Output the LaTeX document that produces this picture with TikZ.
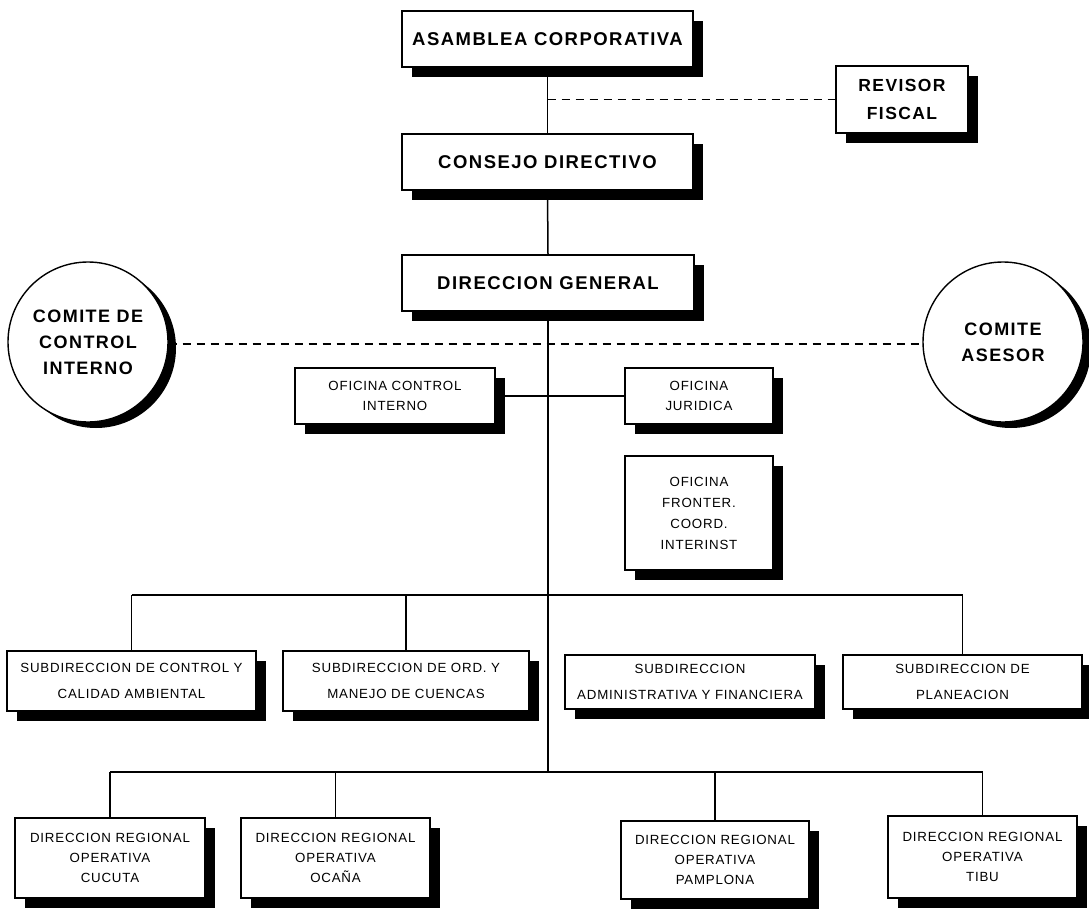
\documentclass[tikz,border=0pt]{standalone}
\usepackage{fontspec}
\setmainfont{Liberation Sans}
\newfontfamily\bigfont[LetterSpace=8]{Liberation Sans}
\newfontfamily\smallfont[LetterSpace=6]{Liberation Sans}
\usetikzlibrary{shadows}
\begin{document}
\begin{tikzpicture}[x=1pt,y=-1pt,
  shad/.style={drop shadow={shadow xshift=10pt,shadow yshift=-10pt,fill=black,opacity=1}},
  cshad/.style={drop shadow={shadow xshift=8pt,shadow yshift=-6pt,fill=black,opacity=1}},
  bigbox/.style={draw,fill=white,line width=1.4pt,shad,inner sep=0pt,align=center,font=\bigfont\fontsize{18.5}{28}\selectfont\bfseries},
  smallbox/.style={draw,fill=white,line width=1.4pt,shad,inner sep=0pt,align=center,font=\smallfont\fontsize{13.3}{20}\selectfont},
  comite/.style={circle,draw,fill=white,line width=1.4pt,cshad,inner sep=0pt,minimum size=160pt,align=center,font=\bigfont\fontsize{18}{26}\selectfont\bfseries},
  conn/.style={line width=1.5pt},
  dashline/.style={line width=1.5pt,dash pattern=on 8pt off 6pt}]
\useasboundingbox (0,0) rectangle (1089,909);
% top boxes
\node[bigbox,minimum width=291pt,minimum height=56pt] (asamblea) at (547.5,39) {ASAMBLEA CORPORATIVA};
\node[bigbox,minimum width=132pt,minimum height=67pt,font=\bigfont\fontsize{17.5}{28}\selectfont\bfseries] (revisor) at (902,99.5) {REVISOR\\FISCAL};
\node[bigbox,minimum width=291pt,minimum height=56pt] (consejo) at (547.5,162) {CONSEJO DIRECTIVO};
\node[bigbox,minimum width=292pt,minimum height=56pt] (dirgen) at (548,283) {DIRECCION GENERAL};
% circles
\node[comite] (cci) at (88,342) {COMITE DE\\CONTROL\\INTERNO};
\node[comite] (cas) at (1003,342) {COMITE\\ASESOR};
% oficinas
\node[smallbox,minimum width=200pt,minimum height=56pt] (ofci) at (395,396) {OFICINA CONTROL\\INTERNO};
\node[smallbox,minimum width=148pt,minimum height=56pt] (ofju) at (699,396) {OFICINA\\JURIDICA};
\node[smallbox,minimum width=148pt,minimum height=114pt,font=\smallfont\fontsize{13.3}{21}\selectfont] (offr) at (699,513) {OFICINA\\FRONTER.\\COORD.\\INTERINST};
% subdirecciones
\node[smallbox,minimum width=249pt,minimum height=60pt,font=\smallfont\fontsize{13.3}{26}\selectfont] (sub1) at (131.5,681) {SUBDIRECCION DE CONTROL Y\\CALIDAD AMBIENTAL};
\node[smallbox,minimum width=246pt,minimum height=60pt,font=\smallfont\fontsize{13.3}{26}\selectfont] (sub2) at (406,681) {SUBDIRECCION DE ORD. Y\\MANEJO DE CUENCAS};
\node[smallbox,minimum width=250pt,minimum height=54pt,font=\smallfont\fontsize{13.3}{26}\selectfont] (sub3) at (690,682) {SUBDIRECCION\\ADMINISTRATIVA Y FINANCIERA};
\node[smallbox,minimum width=239pt,minimum height=54pt,font=\smallfont\fontsize{13.3}{26}\selectfont] (sub4) at (962.5,682) {SUBDIRECCION DE\\PLANEACION};
% regionales
\node[smallbox,minimum width=190pt,minimum height=80pt] (reg1) at (110,858) {DIRECCION REGIONAL\\OPERATIVA\\CUCUTA};
\node[smallbox,minimum width=189pt,minimum height=80pt] (reg2) at (335.5,858) {DIRECCION REGIONAL\\OPERATIVA\\OCAÑA};
\node[smallbox,minimum width=188pt,minimum height=78pt] (reg3) at (715,860) {DIRECCION REGIONAL\\OPERATIVA\\PAMPLONA};
\node[smallbox,minimum width=189pt,minimum height=82pt] (reg4) at (982.5,857) {DIRECCION REGIONAL\\OPERATIVA\\TIBU};
% coordinates
\coordinate (rv) at (asamblea.south |- revisor.west);
\coordinate (dl) at (dirgen.south |- 0,344);
\coordinate (sbL) at (sub1.north |- 0,595);
\coordinate (sbR) at (sub4.north |- 0,595);
\coordinate (rgL) at (reg1.north |- 0,772);
\coordinate (rgM) at (dirgen.south |- 0,772);
\coordinate (rgR) at (reg4.north |- 0,772);
% connectors
\draw[conn] (asamblea.south) -- (consejo.north);
\draw[conn] (consejo.south) -- (dirgen.north);
\draw[conn] (dirgen.south) -- (rgM);
\draw[dashline] (rv) -- (revisor.west);
\draw[dashline] (cci.east |- dl) -- (cas.west |- dl);
\draw[conn] (ofci.east) -- (ofju.west);
\draw[conn] (sbL) -- (sbR);
\draw[conn] (sbL) -- (sub1.north);
\draw[conn] (sub2.north |- sbL) -- (sub2.north);
\draw[conn] (sbR) -- (sub4.north);
\draw[conn] (rgL) -- (rgR);
\draw[conn] (rgL) -- (reg1.north);
\draw[conn] (reg2.north |- rgL) -- (reg2.north);
\draw[conn] (reg3.north |- rgL) -- (reg3.north);
\draw[conn] (rgR) -- (reg4.north);
\end{tikzpicture}
\end{document}
